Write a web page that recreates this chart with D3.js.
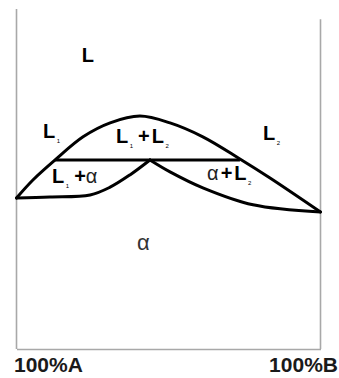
<!DOCTYPE html>
<html>
<head>
<meta charset="utf-8">
<script src="https://cdn.jsdelivr.net/npm/d3@7"></script>
<style>
  html, body { margin: 0; padding: 0; background: #fff; }
  svg { display: block; font-family: "Liberation Sans", Arial, sans-serif; }
</style>
</head>
<body>
<svg id="chart" width="339" height="378"></svg>
<script>
// Composition axis: % of component B (0 = pure A, 100 = pure B)
const axisTicks = [0, 100];
const axisTickLabels = ["100%A", "100%B"];

// Liquidus: from the melting point of A over the maximum down to the melting point of B
const liquidusComp = [0, 5.4, 12.7, 21.9, 30.8, 40.6, 50.5, 61.3, 73.5, 83.4, 100];
const liquidusTemp = [44.4, 49.7, 55.6, 62.4, 66.5, 68.5, 66.5, 62.4, 55.9, 50.3, 40.3];

// Solidus, A-rich side (L1 + α region below)
const solidusLeftComp = [0, 11, 24.2, 30.8, 37.3, 43.9];
const solidusLeftTemp = [44.4, 44.7, 45.3, 47.6, 51.2, 55.6];

// Solidus, B-rich side (α + L2 region below)
const solidusRightComp = [43.9, 50.5, 61.3, 77.8, 100];
const solidusRightTemp = [55.6, 52.1, 47.4, 42.4, 40.3];

// Monotectic isotherm
const isothermComp = [12.7, 73.5];
const isothermTemp = 55.6;

// Region labels: [text, kind] pieces, anchored at composition / temperature
const regionLabels = [
  { parts: [["L", "b"]], c: 21.5, t: 84.5 },
  { parts: [["L", "b"], ["1", "s"]], c: 8.7, t: 62.2 },
  { parts: [["L", "b"], ["1", "s"], ["+", "b"], ["L", "b"], ["2", "s"]], c: 32.7, t: 60.6 },
  { parts: [["L", "b"], ["2", "s"]], c: 81.1, t: 61.5 },
  { parts: [["L", "b"], ["1", "s"], ["+", "b"], ["α", "n"]], c: 11.7, t: 48.8 },
  { parts: [["α", "n"], ["+", "b"], ["L", "b"], ["2", "s"]], c: 62.7, t: 49.7 },
  { parts: [["α", "a"]], c: 39.6, t: 29.1 }
];

const svg = d3.select("#chart");
const x = d3.scaleLinear().domain([0, 100]).range([16.5, 320.5]);
const y = d3.scaleLinear().domain([0, 100]).range([349, 9]);

// Frame: bottom composition axis and two pure-component verticals
const axis = d3.axisBottom(x)
  .tickValues(axisTicks)
  .tickSize(0)
  .tickPadding(0)
  .tickFormat((d, i) => axisTickLabels[i]);

const gAxis = svg.append("g")
  .attr("transform", `translate(0,${y(0)})`)
  .call(axis);
gAxis.select(".domain").attr("stroke", "#a8a8a8").attr("stroke-width", 1.6);
gAxis.selectAll(".tick text")
  .attr("font-family", "Liberation Sans, Arial, sans-serif")
  .attr("font-size", 21)
  .attr("font-weight", "bold")
  .attr("fill", "#1a1a1a")
  .attr("dy", null)
  .attr("y", 23)
  .attr("text-anchor", (d, i) => i === 0 ? "start" : "end")
  .attr("dx", (d, i) => i === 0 ? -3 : 17);

svg.append("line")
  .attr("x1", x(0)).attr("x2", x(0))
  .attr("y1", y(0)).attr("y2", y(100))
  .attr("stroke", "#a8a8a8").attr("stroke-width", 1.6);
svg.append("line")
  .attr("x1", x(100)).attr("x2", x(100))
  .attr("y1", y(0)).attr("y2", y(97))
  .attr("stroke", "#a8a8a8").attr("stroke-width", 1.6);

// Phase boundaries
const line = d3.line()
  .x(d => x(d[0]))
  .y(d => y(d[1]))
  .curve(d3.curveCatmullRom.alpha(0.5));

function drawBoundary(comp, temp) {
  svg.append("path")
    .datum(comp.map((c, i) => [c, temp[i]]))
    .attr("d", line)
    .attr("fill", "none")
    .attr("stroke", "#000")
    .attr("stroke-width", 3)
    .attr("stroke-linejoin", "round")
    .attr("stroke-linecap", "round");
}
drawBoundary(liquidusComp, liquidusTemp);
drawBoundary(solidusLeftComp, solidusLeftTemp);
drawBoundary(solidusRightComp, solidusRightTemp);

svg.append("line")
  .attr("x1", x(isothermComp[0])).attr("x2", x(isothermComp[1]))
  .attr("y1", y(isothermTemp)).attr("y2", y(isothermTemp))
  .attr("stroke", "#000").attr("stroke-width", 3);

// Region labels
regionLabels.forEach(lab => {
  const t = svg.append("text")
    .attr("x", x(lab.c))
    .attr("y", y(lab.t))
    .attr("fill", "#000");
  let prevSub = false;
  let prevKind = null;
  lab.parts.forEach(([txt, kind], i) => {
    const s = t.append("tspan").text(txt);
    let dy = 0;
    if (kind === "s") {
      s.attr("font-size", 6).attr("font-weight", "normal").attr("dx", 1.5);
      dy = 5;
    } else if (kind === "b") {
      s.attr("font-size", 20).attr("font-weight", "bold");
      if (i > 0) {
        if (txt === "+") s.attr("dx", prevKind === "n" ? 2 : 5);
        else s.attr("dx", 2);
      }
    } else if (kind === "n") {
      s.attr("font-size", 20).attr("font-weight", "normal").attr("fill", "#222");
      if (i > 0) s.attr("dx", 0);
    } else {
      s.attr("font-size", 22).attr("font-weight", "normal").attr("fill", "#333");
    }
    if (prevSub && kind !== "s") dy = -5;
    if (dy) s.attr("dy", dy);
    prevSub = kind === "s";
    prevKind = kind;
  });
});
</script>
</body>
</html>
